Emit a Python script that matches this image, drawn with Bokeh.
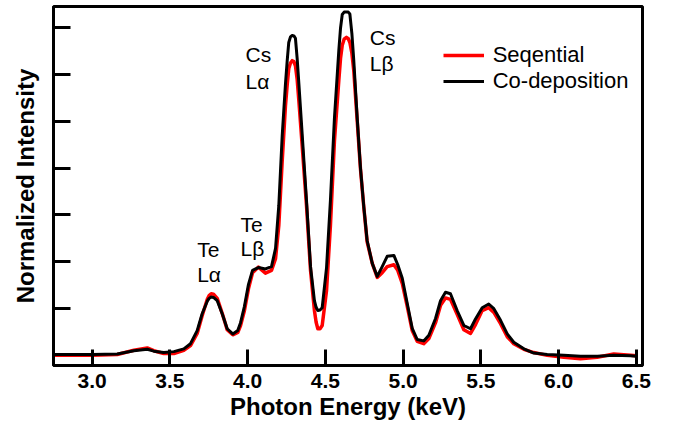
from bokeh.plotting import figure
from bokeh.models import (Range1d, FixedTicker, CustomJSTickFormatter, NumeralTickFormatter,
                          Legend, LegendItem, ColumnDataSource)
from bokeh.core.properties import value
from bokeh.embed import file_html
from bokeh.resources import INLINE

# ---------------- data ----------------
energy_kev = [2.753, 3.000, 3.161, 3.268, 3.354, 3.396, 3.460, 3.525, 3.589, 3.632,
              3.675, 3.707, 3.740, 3.752, 3.765, 3.780, 3.804, 3.836, 3.868, 3.904,
              3.936, 3.954, 3.979, 4.005, 4.031, 4.069, 4.114, 4.153, 4.179, 4.200,
              4.222, 4.243, 4.254, 4.264, 4.275, 4.286, 4.297, 4.307, 4.318, 4.329,
              4.350, 4.378, 4.404, 4.429, 4.440, 4.451, 4.465, 4.479, 4.507, 4.532,
              4.558, 4.586, 4.597, 4.608, 4.620, 4.635, 4.647, 4.657, 4.670, 4.682,
              4.704, 4.725, 4.747, 4.768, 4.801, 4.833, 4.865, 4.897, 4.940, 4.965,
              4.994, 5.026, 5.058, 5.090, 5.132, 5.165, 5.208, 5.240, 5.272, 5.304,
              5.347, 5.390, 5.433, 5.465, 5.508, 5.550, 5.583, 5.626, 5.669, 5.711,
              5.776, 5.840, 5.926, 6.033, 6.140, 6.248, 6.354, 6.462, 6.500]

intensity_codep = [0.001, 0.001, 0.002, 0.009, 0.012, 0.008, 0.005, 0.007, 0.013, 0.024,
                   0.052, 0.088, 0.115, 0.121, 0.124, 0.123, 0.116, 0.088, 0.056, 0.045,
                   0.052, 0.069, 0.104, 0.151, 0.181, 0.187, 0.184, 0.189, 0.228, 0.320,
                   0.470, 0.581, 0.630, 0.669, 0.681, 0.684, 0.683, 0.678, 0.635, 0.581,
                   0.474, 0.331, 0.189, 0.116, 0.102, 0.095, 0.096, 0.101, 0.187, 0.331,
                   0.508, 0.652, 0.700, 0.729, 0.734, 0.734, 0.734, 0.730, 0.688, 0.631,
                   0.508, 0.401, 0.316, 0.245, 0.196, 0.168, 0.189, 0.211, 0.213, 0.193,
                   0.164, 0.110, 0.057, 0.033, 0.030, 0.042, 0.078, 0.116, 0.134, 0.131,
                   0.095, 0.063, 0.056, 0.077, 0.101, 0.109, 0.099, 0.074, 0.045, 0.027,
                   0.013, 0.004, 0.001, -0.001, -0.003, -0.003, -0.001, -0.002, -0.003]

intensity_seq = [-0.001, -0.001, 0.001, 0.010, 0.015, 0.009, 0.003, 0.003, 0.010, 0.020,
                 0.046, 0.084, 0.119, 0.127, 0.131, 0.130, 0.121, 0.089, 0.054, 0.043,
                 0.048, 0.063, 0.095, 0.142, 0.176, 0.188, 0.175, 0.181, 0.206, 0.277,
                 0.416, 0.534, 0.578, 0.613, 0.625, 0.630, 0.628, 0.619, 0.590, 0.544,
                 0.449, 0.320, 0.181, 0.095, 0.070, 0.056, 0.056, 0.063, 0.138, 0.277,
                 0.459, 0.588, 0.635, 0.663, 0.676, 0.680, 0.677, 0.669, 0.646, 0.609,
                 0.502, 0.399, 0.315, 0.242, 0.196, 0.166, 0.176, 0.189, 0.193, 0.181,
                 0.153, 0.104, 0.052, 0.029, 0.024, 0.035, 0.069, 0.106, 0.122, 0.119,
                 0.087, 0.054, 0.046, 0.065, 0.095, 0.101, 0.091, 0.067, 0.039, 0.024,
                 0.012, 0.005, -0.001, -0.005, -0.008, -0.005, 0.002, -0.001, -0.002]

series_names = ["Seqential", "Co-deposition"]
x_ticks = [3.0, 3.5, 4.0, 4.5, 5.0, 5.5, 6.0, 6.5]
y_ticks = [0.0, 0.1, 0.2, 0.3, 0.4, 0.5, 0.6, 0.7]

peak_text = ["Te", "Lα", "Te", "Lβ", "Cs", "Lα", "Cs", "Lβ"]
peak_text_x = [3.675, 3.675, 3.954, 3.954, 3.986, 3.986, 4.785, 4.785]
peak_text_y = [0.225, 0.1715, 0.2786, 0.2285, 0.6426, 0.586, 0.679, 0.623]

# ---------------- figure ----------------
FONT = "Liberation Sans"
p = figure(width=673, height=431, output_backend="svg", toolbar_location=None,
           x_range=Range1d(2.751, 6.539), y_range=Range1d(-0.0227, 0.746))
p.min_border_left = 53
p.min_border_right = 31
p.min_border_top = 6
p.min_border_bottom = 66
p.background_fill_color = "white"
p.border_fill_color = "white"
p.outline_line_color = "black"
p.outline_line_width = 3
p.xgrid.grid_line_color = None
p.ygrid.grid_line_color = None

r_seq = p.line(energy_kev, intensity_seq, line_color="#ff0000", line_width=3.5,
               line_join="round")
r_cod = p.line(energy_kev, intensity_codep, line_color="black", line_width=3,
               line_join="round")

# axes
xa = p.xaxis[0]
xa.ticker = FixedTicker(ticks=x_ticks)
xa.formatter = NumeralTickFormatter(format="0.0")
xa.minor_tick_line_color = None
xa.major_tick_in = 16
xa.major_tick_out = 0
xa.major_tick_line_width = 3
xa.axis_line_width = 3
xa.major_label_text_font = FONT
xa.major_label_text_font_style = "bold"
xa.major_label_text_font_size = "21px"
xa.major_label_text_color = "black"
xa.major_label_standoff = 8
xa.axis_label = "Photon Energy (keV)"
xa.axis_label_text_font = FONT
xa.axis_label_text_font_style = "bold"
xa.axis_label_text_font_size = "24px"
xa.axis_label_text_color = "black"
xa.axis_label_standoff = 2

ya = p.yaxis[0]
ya.ticker = FixedTicker(ticks=y_ticks)
ya.formatter = CustomJSTickFormatter(code="return ''")
ya.minor_tick_line_color = None
ya.major_tick_in = 17
ya.major_tick_out = 0
ya.major_tick_line_width = 3
ya.axis_line_width = 3
ya.major_label_standoff = 0
ya.axis_label = "Normalized Intensity"
ya.axis_label_text_font = FONT
ya.axis_label_text_font_style = "bold"
ya.axis_label_text_font_size = "24px"
ya.axis_label_text_color = "black"
ya.axis_label_standoff = 15

# peak annotations
src = ColumnDataSource(dict(x=peak_text_x, y=peak_text_y, t=peak_text))
p.text(x="x", y="y", text="t", source=src, text_font=value(FONT),
       text_font_size="21px", text_color="black", text_align="left",
       text_baseline="alphabetic")

# legend
legend = Legend(items=[LegendItem(label=series_names[0], renderers=[r_seq]),
                       LegendItem(label=series_names[1], renderers=[r_cod])],
                location=(389.7, 271.5))
legend.padding = 0
legend.margin = 0
legend.spacing = 0
legend.glyph_width = 41
legend.glyph_height = 26
legend.label_height = 26
legend.label_standoff = 9
legend.label_text_font = FONT
legend.label_text_font_size = "22px"
legend.label_text_color = "black"
legend.border_line_color = None
legend.background_fill_alpha = 0
p.add_layout(legend)

open("out.html", "w").write(file_html(p, INLINE))
